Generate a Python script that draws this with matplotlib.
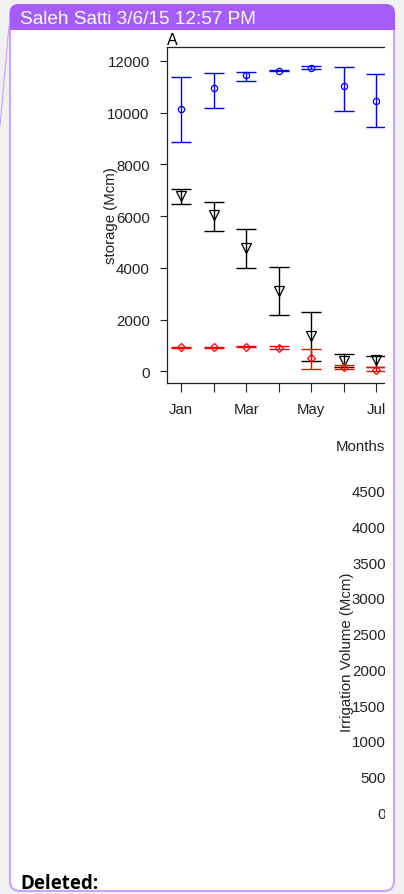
import matplotlib
matplotlib.use("Agg")
import matplotlib.pyplot as plt
from matplotlib.patches import FancyBboxPatch, Rectangle
from matplotlib.lines import Line2D

# ---------------- data ----------------
months = ["Jan", "Feb", "Mar", "Apr", "May", "Jun", "Jul"]
month_idx = [1, 2, 3, 4, 5, 6, 7]
shown_labels = ["Jan", "", "Mar", "", "May", "", "Jul"]

blue_mean = [10135, 10935, 11449, 11615, 11708, 11036, 10444]
blue_high = [11360, 11514, 11553, 11654, 11785, 11746, 11476]
blue_low = [8848, 10162, 11205, 11592, 11681, 10070, 9440]

black_mean = [6785, 6030, 4753, 3114, 1345, 398, 437]
black_high = [7056, 6530, 5498, 4018, 2303, 668, 591]
black_low = [6464, 5433, 3980, 2175, 386, 155, 178]

red_mean = [927, 927, 950, 900, 502, 147, 40]
red_high = [950, 950, 975, 966, 850, 243, 160]
red_low = [905, 905, 925, 850, 77, 70, 10]

storage_ticks = [0, 2000, 4000, 6000, 8000, 10000, 12000]
irrig_ticks = [0, 500, 1000, 1500, 2000, 2500, 3000, 3500, 4000, 4500]

header_text = "Saleh Satti 3/6/15 12:57 PM"

# ---------------- figure ----------------
W, H = 404, 895
fig = plt.figure(figsize=(W / 100, H / 100), dpi=100)
fig.patch.set_facecolor("#f1f1f1")

PURPLE = "#a55cf8"
BORDER = "#c9a3ff"
FONT = ["Liberation Sans", "DejaVu Sans"]

# background balloon
bg = fig.add_axes([0, 0, 1, 1], zorder=-10)
bg.set_xlim(0, W)
bg.set_ylim(H, 0)
bg.axis("off")
bg.add_patch(FancyBboxPatch((10, 18), 384, 874, boxstyle="round,pad=0,rounding_size=10",
                            fc="white", ec=BORDER, lw=1.5))
bg.add_patch(FancyBboxPatch((9.5, 5), 385.5, 26, boxstyle="round,pad=0,rounding_size=9",
                            fc=PURPLE, ec="none"))
bg.add_patch(Rectangle((9.5, 20), 385.5, 11, fc=PURPLE, ec="none"))
bg.add_line(Line2D([0, 9], [127, 27], color=BORDER, lw=0.8))
bg.text(20, 24, header_text, color="white", fontsize=13.7, family=FONT, va="baseline", ha="left")
bg.text(20, 894.5, "Deleted:", color="black", fontsize=13.5, family=["Open Sans", "DejaVu Sans"],
        fontweight="bold", va="bottom", ha="left")

# ---------------- chart A ----------------
ax1 = fig.add_axes([167 / W, 1 - 384 / H, 386 / W, 336 / H])
ax1.set_facecolor("none")
ax1.set_xlim(0.56, 12.44)
ax1.set_ylim(-452, 12531)

def series(ax, mean, low, high, color, marker, ms):
    yerr = [[m - l for m, l in zip(mean, low)], [h - m for m, h in zip(mean, high)]]
    ax.errorbar(month_idx, mean, yerr=yerr, fmt="none", ecolor=color, elinewidth=1.0,
                capsize=7.2, capthick=1.0)
    ax.plot(month_idx, mean, linestyle="none", marker=marker, ms=ms, mfc="none",
            mec=color, mew=0.9)

series(ax1, blue_mean, blue_low, blue_high, "#0000ff", "o", 4.5)
series(ax1, black_mean, black_low, black_high, "black", "v", 6.5)
series(ax1, red_mean, red_low, red_high, "#ff0000", "D", 4.5)

for s in ax1.spines.values():
    s.set_linewidth(0.9)
    s.set_color("#222222")
ax1.set_xticks(month_idx)
ax1.set_xticklabels(shown_labels)
ax1.set_yticks(storage_ticks)
ax1.set_yticklabels([str(v) for v in storage_ticks])
ax1.tick_params(axis="y", length=5, width=0.8, pad=7.5, labelsize=10.8, colors="#222222")
ax1.tick_params(axis="x", length=6.5, width=0.8, pad=7.5, labelsize=10.8, colors="#222222")
for lab in ax1.get_xticklabels() + ax1.get_yticklabels():
    lab.set_family(FONT)
ax1.set_ylabel("storage (Mcm)", fontsize=10.8, family=FONT, color="#222222")
ax1.yaxis.set_label_coords((111 - 167) / 386, 0.5)
ax1.yaxis.label.set_va("center")
ax1.set_xlabel("Months", fontsize=10.8, family=FONT, color="#222222")
ax1.xaxis.set_label_coords(0.5, (384 - 446.7) / 336)
ax1.xaxis.label.set_va("center")
ax1.set_title("A", loc="left", pad=1, fontsize=11.5, family=FONT)

# ---------------- chart B (only its left axis is visible) ----------------
SP2 = 403
ax2 = fig.add_axes([SP2 / W, 1 - 826.2 / H, 0.5, 347.3 / H])
ax2.set_facecolor("none")
ax2.set_ylim(-180, 4680)
for s in ax2.spines.values():
    s.set_visible(False)
ax2.xaxis.set_visible(False)
ax2.set_yticks(irrig_ticks)
ax2.set_yticklabels([str(v) for v in irrig_ticks])
ax2.tick_params(axis="y", length=5, width=0.8, pad=7.5, labelsize=10.8, colors="#222222")
for lab in ax2.get_yticklabels():
    lab.set_family(FONT)
ax2.set_ylabel("Irrigation Volume (Mcm)", fontsize=10.8, family=FONT, color="#222222")
ax2.yaxis.set_label_coords((347 - SP2) / (0.5 * W), 0.5)
ax2.yaxis.label.set_va("center")

# ---------------- overlay clipping the embedded chart ----------------
ov = fig.add_axes([0, 0, 1, 1], zorder=10)
ov.set_facecolor("none")
ov.set_xlim(0, W)
ov.set_ylim(H, 0)
ov.axis("off")
ov.add_patch(Rectangle((385, 33), 8.3, 850, fc="white", ec="none"))
ov.add_patch(Rectangle((395, 33), 10, 850, fc="#f1f1f1", ec="none"))
ov.add_line(Line2D([394, 394], [33, 883], color=BORDER, lw=1.5))

fig.savefig("out.png", dpi=100)
